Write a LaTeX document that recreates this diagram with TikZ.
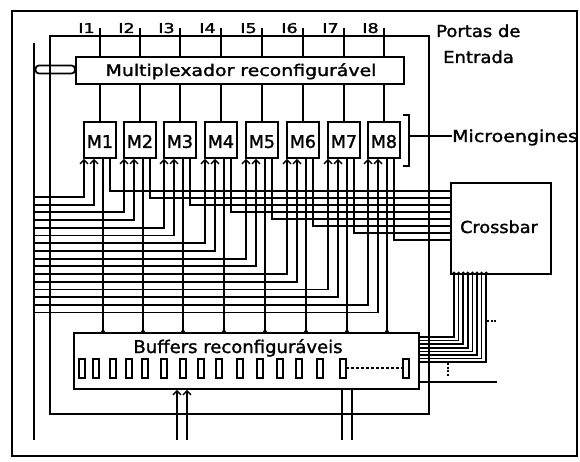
\documentclass[tikz,border=0pt]{standalone}
\usepackage{fontspec}
\setmainfont{DejaVu Sans}
\newfontfamily\tf{DejaVu Sans}[FakeBold=1.5]
\usepackage{graphicx}
\usetikzlibrary{calc,arrows.meta}
\newcommand{\fs}[2]{\fontsize{#1}{#1}\tf\scalebox{#2}[1]}
\begin{document}
\begin{tikzpicture}[x=1pt,y=-1pt,
  box/.style={draw, line width=1.8pt, inner sep=0pt, anchor=north west},
  lbl/.style={inner sep=0pt, anchor=base},
  wire/.style={line width=1.8pt},
  thin wire/.style={line width=1.5pt},
  arr/.style={wire, -{Straight Barb[length=4pt,width=8pt,line width=1.4pt]}},
]
\useasboundingbox (0,0) rectangle (580,462);
% outer frame
\draw[line width=1.4pt] (12,11) rectangle (577,456);
% inner frame
\draw[wire] (50,36) -- (429,36) -- (429,414) -- (50,414) -- cycle;
% left bus
\coordinate (busT) at (34,43);
\coordinate (busB) at (34,440);
\draw[wire] (busT) -- (busB);
% main boxes
\node[box, minimum width=328pt, minimum height=27pt] (mux) at (75,56) {};
\node[box, minimum width=345pt, minimum height=56pt] (buf) at (73,332) {};
\node[box, minimum width=100pt, minimum height=91pt] (xbar) at (450,182) {};
% pill connector bus -> mux
\draw[wire, rounded corners=3.4pt] (35.5,65.5) rectangle (75,73.5);
% texts
\node[lbl] (muxt) at (241,76) {\fs{16}{1.18}{Multiplexador reconfigurável}};
\node[lbl] (buft) at (238,353) {\fs{17.5}{1.03}{Buffers reconfiguráveis}};
\node[lbl] (xbart) at (499,233) {\fs{16.5}{1.07}{Crossbar}};
\node[lbl, anchor=base west] (micro) at (452,142) {\fs{16.5}{1.15}{Microengines}};
\node[lbl, anchor=base west] (portas) at (436,37) {\fs{16.5}{1.09}{Portas de}};
\node[lbl, anchor=base west] (entrada) at (443,63) {\fs{16.5}{1.09}{Entrada}};
% microengines
\foreach \i/\L in {1/83,2/123,3/163,4/204,5/245,6/286,7/327,8/367} {
  \node[box, minimum width=32pt, minimum height=36pt] (M\i) at (\L,121) {};
  \node[lbl] at ($(M\i.center)+(0,8)$) {\fs{17.5}{1}{M\i}};
  \coordinate (t\i) at ($(M\i.north)+(0,-93)$);
  \draw[wire] (t\i) -- (t\i |- mux.north);
  \node[lbl, anchor=base east] at ($(t\i)+(-5,5)$) {\fs{13.5}{1.3}{I\i}};
  \draw[wire] (mux.south -| M\i.north) -- (M\i.north);
}
% bracket
\coordinate (br1) at (403,115);
\coordinate (br2) at (403,166);
\draw[wire] (br1) -- ++(6,0) coordinate (br3) -- (br3 |- br2) -- (br2);
\coordinate (brm) at (409,136);
\draw[wire] (brm) -- (micro.west |- brm);
% wires around microengines
\foreach \i in {1,...,8} {
  \pgfmathsetmacro\ya{197+7.7*(2*\i-2)}
  \pgfmathsetmacro\yb{197+7.7*(2*\i-1)}
  \pgfmathsetmacro\yo{191+7*(\i-1)}
  \coordinate (ia\i) at (34,\ya);
  \coordinate (ib\i) at (34,\yb);
  \coordinate (oo\i) at (450,\yo);
  \draw[arr] (ia\i) -| ($(M\i.south west)+(1,0)$);
  \draw[arr] (ib\i) -| ($(M\i.south west)+(11,0)$);
  \draw[wire] ($(M\i.south west)+(27,0)$) |- (oo\i);
  \coordinate (bd\i) at ($(M\i.south west)+(20,0)$);
  \draw[wire] (bd\i) -- (bd\i |- buf.north);
  \fill (bd\i |- buf.north) circle (2pt);
}
% crossbar -> buffers
\foreach \j in {0,...,7} {
  \pgfmathsetmacro\cx{454+4.6*\j}
  \pgfmathsetmacro\cy{337+3.6*\j}
  \coordinate (c\j) at (\cx,273);
  \coordinate (e\j) at (418,\cy);
  \draw[thin wire] (c\j) |- (e\j);
  \fill (c\j) circle (1.6pt);
}
% dotted marks
\draw[thin wire, dash pattern=on 2pt off 1.5pt] (487,321) -- (497,321);
\draw[thin wire, dash pattern=on 2pt off 1.5pt] (448,363) -- (448,377);
% extra buffer output line
\coordinate (r1) at (418,382);
\coordinate (r2) at (497,382);
\draw[wire] (r1) -- (r2);
% buffer cells
\foreach \x in {79,93,110,126,142,161,180,198,216,237,257,277,296,317,340,403}
  \draw[thin wire] (\x,359) rectangle ++(6,19);
\draw[thin wire, dash pattern=on 3pt off 2pt] (346,368) -- (403,368);
% buffer bottom inputs and outputs
\coordinate (bi1) at (177,440);
\coordinate (bi2) at (187,440);
\coordinate (bo1) at (342,440);
\coordinate (bo2) at (352,440);
\draw[arr] (bi1) -- (bi1 |- buf.south);
\draw[arr] (bi2) -- (bi2 |- buf.south);
\draw[wire] (bo1 |- buf.south) -- (bo1);
\draw[wire] (bo2 |- buf.south) -- (bo2);
\end{tikzpicture}
\end{document}
